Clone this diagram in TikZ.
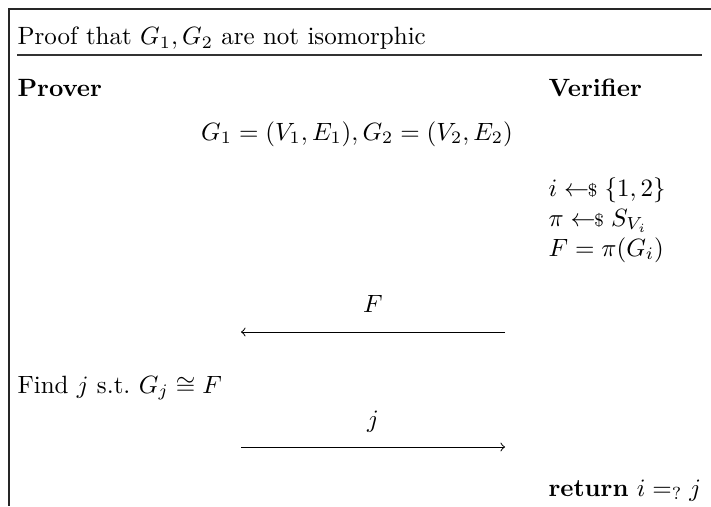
\documentclass[tikz,border=0pt]{standalone}
\usepackage{amsmath,amssymb}
\newcommand{\smp}{\mathrel{\leftarrow\!\!{\scriptstyle\$}}}
\begin{document}
\begin{tikzpicture}[x=0.4pt,y=-0.4pt,
  frame/.style={line width=0.8pt,black!85},
  rulest/.style={line width=0.6pt,black!80},
  msg/.style={line width=0.4pt,->},
  lt/.style={anchor=base west,inner sep=0pt},
  ct/.style={anchor=base,inner sep=0pt},
  lbl/.style={midway,anchor=base,inner sep=0pt,yshift=7.8pt}]
\useasboundingbox (0,0) rectangle (711,506);
\coordinate (tl) at (9,9);
\coordinate (tr) at (711,9);
\coordinate (bl) at (9,506);
\draw[frame] (tr) -- (tl) -- (bl);
\coordinate (rl) at (17,55);
\coordinate (rr) at (702,55);
\draw[rulest] (rl) -- (rr);
\node[lt] (title) at (17,45) {Proof that $G_1, G_2$ are not isomorphic};
\node[lt] (prover) at (17,97) {\textbf{Prover}};
\node[lt] (verifier) at (548,97) {\textbf{Verifier}};
\node[ct] (graphs) at (357,140) {$G_1=(V_1,E_1), G_2=(V_2,E_2)$};
\node[lt] (v1) at (548,196) {$i \smp \{1,2\}$};
\node[lt] (v2) at (548,226) {$\pi \smp S_{V_i}$};
\node[lt] (v3) at (548,256) {$F=\pi(G_i)$};
\coordinate (a1r) at (505,332);
\coordinate (a1l) at (241,332);
\draw[msg] (a1r) -- node[lbl] (lF) {$F$} (a1l);
\node[lt] (find) at (17,393) {Find $j$ s.t.\ $G_j \cong F$};
\coordinate (a2l) at (241,447);
\coordinate (a2r) at (505,447);
\draw[msg] (a2l) -- node[lbl] (lj) {$j$} (a2r);
\node[lt] (ret) at (548,496) {\textbf{return} $i =_{?} j$};
\end{tikzpicture}
\end{document}
